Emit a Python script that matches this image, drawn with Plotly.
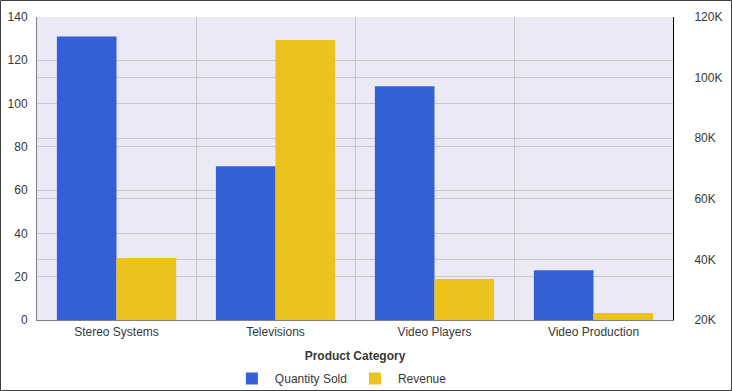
import plotly.graph_objects as go

categories = ["Stereo Systems", "Televisions", "Video Players", "Video Production"]
quantity_sold = [131, 71, 108, 23]
revenue = [40500, 112400, 33500, 22300]

left_ticks = [0, 20, 40, 60, 80, 100, 120, 140]
right_tick_vals = [20000, 40000, 60000, 80000, 100000, 120000]
right_tick_text = ["20K", "40K", "60K", "80K", "100K", "120K"]

BLUE = "#3360D4"
YELLOW = "#EBC31C"
FONT = "Liberation Sans, Arial, sans-serif"
TXT = "#383838"

fig = go.Figure()
fig.add_trace(go.Bar(x=categories, y=quantity_sold, name="Quantity Sold",
                     marker=dict(color=BLUE, line=dict(width=0)),
                     offsetgroup="1", yaxis="y"))
fig.add_trace(go.Bar(x=categories, y=revenue, name="Revenue",
                     marker=dict(color=YELLOW, line=dict(width=0)),
                     offsetgroup="2", yaxis="y2"))

W, H = 732, 391
ml, mr, mt, mb = 37, 59, 17, 71
pw = W - ml - mr
ph = H - mt - mb

fig.update_layout(
    width=W, height=H,
    margin=dict(l=ml, r=mr, t=mt, b=mb, pad=0, autoexpand=False),
    paper_bgcolor="white",
    plot_bgcolor="#EBE9F5",
    barmode="group",
    bargap=0.25,
    bargroupgap=0,
    font=dict(family=FONT, size=12, color=TXT),
    showlegend=True,
    legend=dict(orientation="h", x=0.477, xanchor="center", y=-0.145, yanchor="top",
                font=dict(family=FONT, size=12, color=TXT), traceorder="normal",
                bgcolor="rgba(0,0,0,0)", itemwidth=36),
    xaxis=dict(
        type="category",
        tickson="boundaries",
        showgrid=True, gridcolor="#C8C8C8", gridwidth=1,
        showline=True, linecolor="#808080", linewidth=1,
        ticks="", ticklabelstandoff=1,
        tickfont=dict(family=FONT, size=12, color=TXT),
        title=dict(text="<b>Product Category</b>", standoff=13,
                   font=dict(family=FONT, size=12, color=TXT)),
        range=[-0.5, 3.5],
        zeroline=False, automargin=False,
    ),
    yaxis=dict(
        range=[0, 140],
        tickvals=left_ticks,
        showgrid=True, gridcolor="#C8C8C8", gridwidth=1,
        showline=True, linecolor="#808080", linewidth=1,
        ticks="", ticklabelstandoff=6,
        tickfont=dict(family=FONT, size=12, color=TXT),
        zeroline=False, automargin=False,
    ),
    yaxis2=dict(
        overlaying="y", side="right",
        range=[20000, 120000],
        tickvals=right_tick_vals, ticktext=right_tick_text,
        showgrid=True, gridcolor="#C8C8C8", gridwidth=1,
        showline=True, linecolor="#000000", linewidth=1,
        ticks="", ticklabelstandoff=18,
        tickfont=dict(family=FONT, size=12, color=TXT),
        zeroline=False, automargin=False,
    ),
)

# outer figure border
fig.add_shape(type="rect", xref="paper", yref="paper",
              x0=(-ml + 0.5) / pw, x1=(pw + mr - 0.5) / pw,
              y0=(-mb + 0.5) / ph, y1=(ph + mt - 0.5) / ph,
              line=dict(color="#404040", width=1), fillcolor="rgba(0,0,0,0)",
              layer="above")

fig.write_html("out.html", config={"displayModeBar": False},
               post_script="document.body.style.margin='0';document.body.style.overflow='hidden';")
